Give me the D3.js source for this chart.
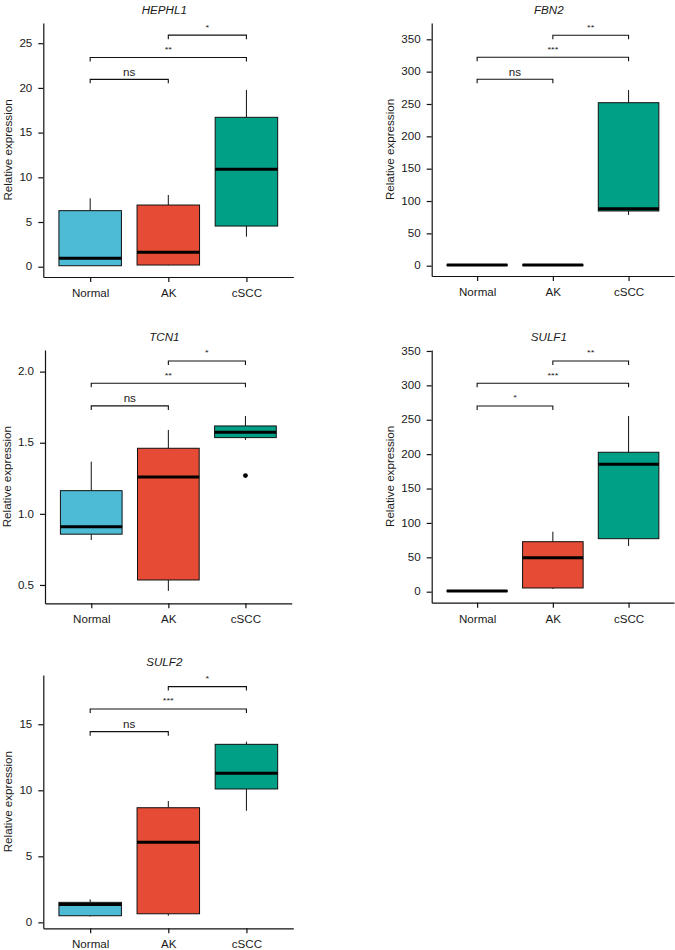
<!DOCTYPE html>
<html>
<head>
<meta charset="utf-8">
<script src="https://cdn.jsdelivr.net/npm/d3@7"></script>
<style>
  body { margin: 0; background: #fff; }
  svg text { font-family: "Liberation Sans", Arial, Helvetica, sans-serif; fill: #1a1a1a; }
</style>
</head>
<body>
<div id="chart"></div>
<script>
// groups and colours
var groups = ["Normal", "AK", "cSCC"];
var groupColors = ["#4DBBD5", "#E64B35", "#00A087"];
var genes = ["HEPHL1", "FBN2", "TCN1", "SULF1", "SULF2"];

// box stats per group: [lower whisker, q1, median, q3, upper whisker]
var hephl1Stats = [[0.1, 0.11, 0.94, 6.27, 7.65], [0.15, 0.19, 1.61, 6.9, 8.02], [3.36, 4.55, 10.9, 16.71, 19.77]];
var fbn2Stats = [[0.6, 0.8, 1, 1.2, 1.4], [0.6, 0.8, 1, 1.2, 1.4], [78.4, 84.6, 88.1, 252, 271.6]];
var tcn1Stats = [[0.816, 0.857, 0.91, 1.163, 1.367], [0.458, 0.535, 1.259, 1.461, 1.59], [1.52, 1.536, 1.574, 1.618, 1.688]];
var sulf1Stats = [[0.5, 0.8, 1, 1.2, 1.5], [4, 5.4, 49.4, 72.7, 87.2], [66.4, 77.1, 185.2, 202.7, 255.4]];
var sulf2Stats = [[0.45, 0.5, 1.36, 1.515, 1.74], [0.5, 0.65, 6.06, 8.68, 9.19], [8.45, 10.1, 11.29, 13.48, 13.68]];

// outliers per group
var hephl1Outliers = [[], [], []];
var fbn2Outliers = [[], [], []];
var tcn1Outliers = [[], [], [1.269]];
var sulf1Outliers = [[], [], []];
var sulf2Outliers = [[], [], []];

// comparisons: Normal-AK, Normal-cSCC, AK-cSCC
var pairs = [[0, 1], [0, 2], [1, 2]];
var hephl1Sig = ["ns", "**", "*"], hephl1SigY = [20.96, 23.4, 25.9];
var fbn2Sig = ["ns", "***", "**"], fbn2SigY = [288.2, 322.2, 356.2];
var tcn1Sig = ["ns", "**", "*"], tcn1SigY = [1.759, 1.918, 2.075];
var sulf1Sig = ["*", "***", "**"], sulf1SigY = [270, 303, 335.5];
var sulf2Sig = ["ns", "***", "*"], sulf2SigY = [14.44, 16.16, 17.85];

// y ticks and axis extents
var hephl1Ticks = [0, 5, 10, 15, 20, 25], hephl1Domain = [-1.15, 27.26];
var fbn2Ticks = [0, 50, 100, 150, 200, 250, 300, 350], fbn2Domain = [-15.9, 375.2];
var tcn1Ticks = [0.5, 1.0, 1.5, 2.0], tcn1Domain = [0.371, 2.152];
var sulf1Ticks = [0, 50, 100, 150, 200, 250, 300, 350], sulf1Domain = [-16, 351.4];
var sulf2Ticks = [0, 5, 10, 15], sulf2Domain = [-0.45, 18.73];

var yLabel = "Relative expression";

var panels = [
  { gene: genes[0], stats: hephl1Stats, outliers: hephl1Outliers, sig: hephl1Sig, sigY: hephl1SigY, ticks: hephl1Ticks, domain: hephl1Domain, fmt: d3.format("d") },
  { gene: genes[1], stats: fbn2Stats, outliers: fbn2Outliers, sig: fbn2Sig, sigY: fbn2SigY, ticks: fbn2Ticks, domain: fbn2Domain, fmt: d3.format("d") },
  { gene: genes[2], stats: tcn1Stats, outliers: tcn1Outliers, sig: tcn1Sig, sigY: tcn1SigY, ticks: tcn1Ticks, domain: tcn1Domain, fmt: d3.format(".1f") },
  { gene: genes[3], stats: sulf1Stats, outliers: sulf1Outliers, sig: sulf1Sig, sigY: sulf1SigY, ticks: sulf1Ticks, domain: sulf1Domain, fmt: d3.format("d") },
  { gene: genes[4], stats: sulf2Stats, outliers: sulf2Outliers, sig: sulf2Sig, sigY: sulf2SigY, ticks: sulf2Ticks, domain: sulf2Domain, fmt: d3.format("d") }
];

// plot frames (axis lines) for each panel
var frames = [
  { x0: 43.3, x1: 293.3, y0: 23, y1: 277 },
  { x0: 431.7, x1: 674, y0: 23, y1: 276 },
  { x0: 45, x1: 291.7, y0: 350, y1: 603.3 },
  { x0: 431.7, x1: 674, y0: 350, y1: 602.7 },
  { x0: 43.3, x1: 293.3, y0: 675, y1: 928.3 }
];

var stretchX = 1.16;

var svg = d3.select("#chart").append("svg")
    .attr("width", 675)
    .attr("height", 950);

function stretch(sel) {
    sel.each(function() {
        var len = this.getComputedTextLength();
        if (len > 0) {
            d3.select(this)
                .attr("textLength", len * stretchX)
                .attr("lengthAdjust", "spacingAndGlyphs");
        }
    });
}

panels.forEach(function(p, k) {
    var f = frames[k];
    var g = svg.append("g").attr("class", "panel");

    var x = d3.scalePoint().domain(groups).range([f.x0, f.x1]).padding(0.6);
    var y = d3.scaleLinear().domain(p.domain).range([f.y1, f.y0]);
    var boxW = x.step() * 0.8;

    // axes
    var yAxis = g.append("g")
        .attr("transform", "translate(" + f.x0 + ",0)")
        .call(d3.axisLeft(y).tickValues(p.ticks).tickFormat(p.fmt).tickSize(5).tickPadding(6).tickSizeOuter(0));
    var xAxis = g.append("g")
        .attr("transform", "translate(0," + f.y1 + ")")
        .call(d3.axisBottom(x).tickSize(5).tickPadding(8).tickSizeOuter(0));
    g.selectAll(".domain, .tick line").attr("stroke", "#111").attr("stroke-width", 1.2);
    g.selectAll(".tick text").attr("font-size", 10).attr("fill", "#1a1a1a")
        .style("font-family", "'Liberation Sans', Arial, sans-serif");

    // whiskers
    g.selectAll(".whisker")
        .data(p.stats)
        .enter()
        .append("path")
        .attr("d", function(d, i) {
            var cx = x(groups[i]);
            return "M" + cx + "," + y(d[0]) + "V" + y(d[1]) + "M" + cx + "," + y(d[3]) + "V" + y(d[4]);
        })
        .attr("stroke", "#111")
        .attr("stroke-width", 1);

    // boxes
    g.selectAll(".box")
        .data(p.stats)
        .enter()
        .append("rect")
        .attr("x", function(d, i) { return x(groups[i]) - boxW / 2; })
        .attr("width", boxW)
        .attr("y", function(d) { return y(d[3]); })
        .attr("height", function(d) { return Math.max(0.3, y(d[1]) - y(d[3])); })
        .attr("fill", function(d, i) { return groupColors[i]; })
        .attr("stroke", "#111")
        .attr("stroke-width", 1);

    // medians
    g.selectAll(".median")
        .data(p.stats)
        .enter()
        .append("line")
        .attr("x1", function(d, i) { return x(groups[i]) - boxW / 2; })
        .attr("x2", function(d, i) { return x(groups[i]) + boxW / 2; })
        .attr("y1", function(d) { return y(d[2]); })
        .attr("y2", function(d) { return y(d[2]); })
        .attr("stroke", "#000")
        .attr("stroke-width", 3);

    // outliers
    p.outliers.forEach(function(vals, i) {
        g.selectAll(null)
            .data(vals)
            .enter()
            .append("circle")
            .attr("cx", x(groups[i]))
            .attr("cy", function(d) { return y(d); })
            .attr("r", 2.4)
            .attr("fill", "#000");
    });

    // significance brackets
    pairs.forEach(function(pr, j) {
        var xa = x(groups[pr[0]]), xb = x(groups[pr[1]]), yy = y(p.sigY[j]);
        g.append("path")
            .attr("d", "M" + xa + "," + (yy + 4) + "V" + yy + "H" + xb + "V" + (yy + 4))
            .attr("fill", "none")
            .attr("stroke", "#111")
            .attr("stroke-width", 1.1);
        var isNs = p.sig[j] === "ns";
        g.append("text")
            .attr("class", "sig")
            .attr("x", (xa + xb) / 2)
            .attr("y", yy - (isNs ? 3.6 : 5.6))
            .attr("text-anchor", "middle")
            .attr("font-size", isNs ? 10 : 8)
            .text(p.sig[j]);
    });

    // title
    g.append("text")
        .attr("x", (f.x0 + f.x1) / 2 - 4)
        .attr("y", f.y0 - 9)
        .attr("text-anchor", "middle")
        .attr("font-size", 10)
        .attr("font-style", "italic")
        .text(p.gene);

    stretch(g.selectAll("text"));

    // y axis title, placed left of the tick labels
    var bb = yAxis.node().getBBox();
    var lx = f.x0 + bb.x - 7;
    var yt = g.append("text")
        .attr("transform", "translate(" + lx + "," + ((f.y0 + f.y1) / 2) + ") rotate(-90)")
        .attr("text-anchor", "middle")
        .attr("font-size", 10)
        .text(yLabel);
    stretch(yt);
});
</script>
</body>
</html>
